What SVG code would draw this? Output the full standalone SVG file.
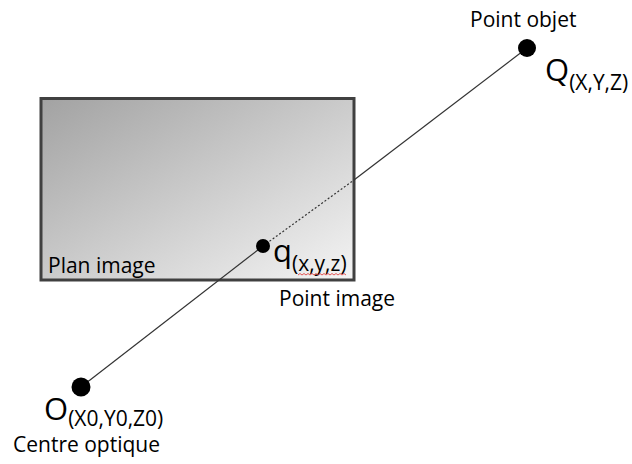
<svg xmlns="http://www.w3.org/2000/svg" width="632" height="464" viewBox="0 0 632 464">
  <style>
    text { font-family: "Open Sans", "Noto Sans", "Liberation Sans", sans-serif; fill: #000; }
    .lbl { font-size: 21px; }
    .big { font-size: 31px; }
    .ray { stroke: #333; stroke-width: 1.2; fill: none; }
    .dot { fill: #000; }
  </style>
  <defs>
    <linearGradient id="g" x1="0" y1="0" x2="1" y2="1">
      <stop offset="0" stop-color="#a2a2a2"/>
      <stop offset="1" stop-color="#f4f4f4"/>
    </linearGradient>
  </defs>

  <g id="plan-image">
    <rect x="41" y="98.5" width="313" height="181.5" fill="url(#g)" stroke="#404040" stroke-width="3"/>
    <text class="lbl" x="48" y="273">Plan image</text>
  </g>

  <g id="connectors">
    <line class="ray" x1="81" y1="387" x2="263" y2="246"/>
    <line class="ray" x1="263" y1="246" x2="354" y2="180" stroke-dasharray="2 2" stroke-width="1.5"/>
    <line class="ray" x1="354" y1="180" x2="527" y2="48"/>
  </g>

  <g id="point-q">
    <circle class="dot" cx="263" cy="246" r="7"/>
    <text class="big" x="273" y="262">q<tspan dy="9" font-size="21">(x,y,z)</tspan></text>
    <path d="M298 275 l2 -1.5 l2 1.5 l2 -1.5 l2 1.5 l2 -1.5 l2 1.5 l2 -1.5 l2 1.5 l2 -1.5 l2 1.5 l2 -1.5 l2 1.5 l2 -1.5 l2 1.5 l2 -1.5 l2 1.5 l2 -1.5 l2 1.5 l2 -1.5 l2 1.5 l2 -1.5 l2 1.5 l2 -1.5 l2 1.5" fill="none" stroke="#e03030" stroke-width="0.8"/>
    <text class="lbl" x="279" y="306">Point image</text>
  </g>

  <g id="point-Q">
    <circle class="dot" cx="527" cy="48" r="9"/>
    <text class="lbl" x="470" y="27">Point objet</text>
    <text class="big" x="545" y="81">Q<tspan dy="9" font-size="21">(X,Y,Z)</tspan></text>
  </g>

  <g id="point-O">
    <circle class="dot" cx="81" cy="387" r="9.5"/>
    <text class="big" x="44" y="420">O<tspan dy="6" font-size="21">(X0,Y0,Z0)</tspan></text>
    <text class="lbl" x="13" y="452">Centre optique</text>
  </g>
</svg>
